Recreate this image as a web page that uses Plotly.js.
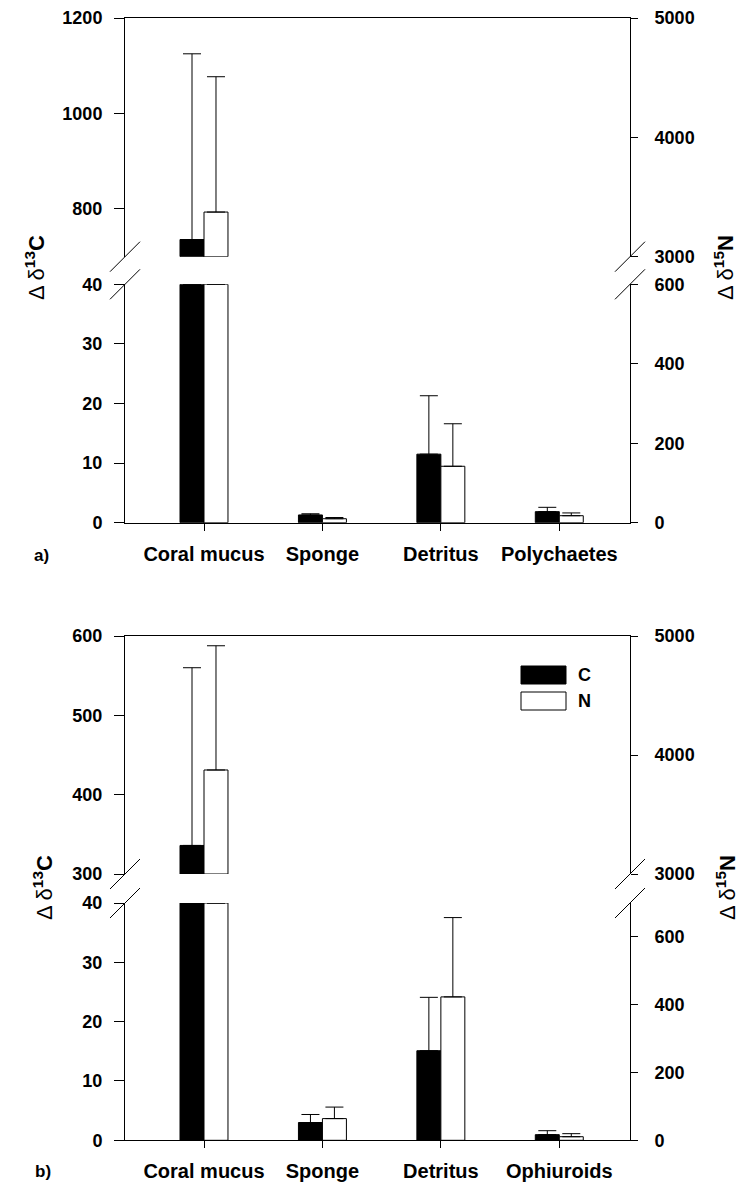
<!DOCTYPE html>
<html><head><meta charset="utf-8">
<script src="https://cdn.plot.ly/plotly-3.0.1.min.js"></script>
<style>html,body{margin:0;padding:0;background:#fff}#chart{width:742px;height:1189px}</style>
</head><body><div id="chart"></div>
<script>
// ---------- data ----------
const categoriesA = ['Coral mucus', 'Sponge', 'Detritus', 'Polychaetes'];
const carbonA     = [736, 1.3, 11.5, 1.85];
const carbonErrA  = [389, 0.2, 9.8, 0.73];
const nitrogenA   = [3374, 10, 142, 17.6];
const nitrogenErrA= [1134, 3, 107, 7];

const categoriesB = ['Coral mucus', 'Sponge', 'Detritus', 'Ophiuroids'];
const carbonB     = [336, 3.0, 15.1, 0.95];
const carbonErrB  = [224, 1.35, 9, 0.67];
const nitrogenB   = [3874, 64, 423, 10.6];
const nitrogenErrB= [1044, 34, 234, 9];

// broken-axis ranges
const cLowA = [0, 40],  cHighA = [700, 1200], nLowA = [0, 600], nHighA = [3000, 5000];
const cLowB = [0, 40],  cHighB = [300, 600],  nLowB = [0, 700], nHighB = [3000, 5000];
const cTicksHighA = [800, 1000, 1200], nTicksHighA = [3000, 4000, 5000];
const cTicksLowA = [0, 10, 20, 30, 40], nTicksLowA = [0, 200, 400, 600];
const cTicksHighB = [300, 400, 500, 600], nTicksHighB = [3000, 4000, 5000];
const cTicksLowB = [0, 10, 20, 30, 40], nTicksLowB = [0, 200, 400, 600];

// ---------- layout helpers ----------
const W = 742, H = 1189;
const px = x => x / W;
const py = y => 1 - y / H;
const FONT = 'Liberation Sans, Arial, sans-serif';
const BW = 0.2025;        // bar width in category units
const XR = [-0.667, 3.597];

function lowTrace(cats, vals, errs, xa, ya, fill, offset, rng) {
  return {
    type: 'bar', x: cats, xaxis: xa, yaxis: ya,
    y: vals.map(v => Math.min(v, rng[1])),
    width: BW, offset: offset,
    marker: {color: fill, line: {color: '#000', width: 1}},
    error_y: {type: 'data', symmetric: false,
      array: vals.map((v, i) => v > rng[1] ? NaN : errs[i]),
      arrayminus: vals.map(() => 0),
      color: '#000', thickness: 1, width: 9},
    showlegend: false, hoverinfo: 'skip'
  };
}
function highTrace(cats, vals, errs, xa, ya, fill, offset, rng) {
  // only values that reach the upper segment are shown there
  return {
    type: 'bar', x: cats, xaxis: xa, yaxis: ya,
    base: rng[0], y: vals.map(v => v > rng[0] ? v - rng[0] : null),
    width: BW, offset: offset,
    marker: {color: fill, line: {color: '#000', width: 1}},
    error_y: {type: 'data', symmetric: false,
      array: vals.map((v, i) => v > rng[0] ? errs[i] : NaN),
      arrayminus: vals.map(() => 0),
      color: '#000', thickness: 1, width: 9},
    showlegend: false, hoverinfo: 'skip'
  };
}

const data = [
  // panel a
  lowTrace(categoriesA, carbonA, carbonErrA, 'x', 'y', '#000', -BW, cLowA),
  lowTrace(categoriesA, nitrogenA, nitrogenErrA, 'x', 'y2', '#fff', 0, nLowA),
  highTrace(categoriesA, carbonA, carbonErrA, 'x2', 'y3', '#000', -BW, cHighA),
  highTrace(categoriesA, nitrogenA, nitrogenErrA, 'x2', 'y4', '#fff', 0, nHighA),
  // panel b
  lowTrace(categoriesB, carbonB, carbonErrB, 'x3', 'y5', '#000', -BW, cLowB),
  lowTrace(categoriesB, nitrogenB, nitrogenErrB, 'x3', 'y6', '#fff', 0, nLowB),
  highTrace(categoriesB, carbonB, carbonErrB, 'x4', 'y7', '#000', -BW, cHighB),
  highTrace(categoriesB, nitrogenB, nitrogenErrB, 'x4', 'y8', '#fff', 0, nHighB)
];

const tickFont = {family: FONT, size: 18, color: '#000', weight: 'bold'};
const base = {showline: true, linecolor: '#000', linewidth: 1, showgrid: false,
  zeroline: false, ticks: 'outside', tickcolor: '#000', tickwidth: 1,
  tickfont: tickFont, fixedrange: true};

function leftY(domain, rng, tv, anchor) {
  return Object.assign({}, base, {domain: domain, range: rng, tickvals: tv,
    anchor: anchor, ticklen: 10, ticklabelstandoff: 8});
}
function rightY(over, rng, tv, anchor) {
  return Object.assign({}, base, {overlaying: over, side: 'right', range: rng,
    tickvals: tv, anchor: anchor, ticklen: 7, ticklabelstandoff: 13});
}
function bottomX(anchor) {
  return Object.assign({}, base, {domain: [px(125), px(630)], range: XR, type: 'category',
    anchor: anchor, ticklen: 7, ticklabelstandoff: 6,
    tickfont: {family: FONT, size: 20, color: '#000', weight: 'bold'}});
}
function topX(anchor) {
  return Object.assign({}, base, {domain: [px(125), px(630)], range: XR, type: 'category',
    anchor: anchor, side: 'top', ticks: '', showticklabels: false, tickvals: []});
}

// vertical pixel extents of the segments
const aHigh = [256.7, 18], aLow = [522.7, 284.3];
const bHigh = [874, 636], bLow = [1140.3, 903];
const dom = s => [py(s[0]), py(s[1])];

const shapes = [];
function brk(x, y) {
  shapes.push({type: 'line', xref: 'paper', yref: 'paper',
    x0: px(x - 15), y0: py(y + 15), x1: px(x + 15), y1: py(y - 15),
    line: {color: '#000', width: 1}});
}
[aHigh[0], aLow[1], bHigh[0], bLow[1]].forEach(y => { brk(125, y); brk(630, y); });

// legend boxes (panel b)
shapes.push({type: 'rect', xref: 'paper', yref: 'paper', x0: px(521), x1: px(566),
  y0: py(684), y1: py(666), fillcolor: '#000', line: {color: '#000', width: 1}});
shapes.push({type: 'rect', xref: 'paper', yref: 'paper', x0: px(521), x1: px(566),
  y0: py(710), y1: py(692), fillcolor: '#fff', line: {color: '#000', width: 1}});

function ann(text, x, y, size, angle, anchor) {
  return {text: text, xref: 'paper', yref: 'paper', x: px(x), y: py(y),
    xanchor: anchor || 'center', yanchor: 'middle', showarrow: false,
    textangle: angle || 0, font: {family: FONT, size: size, color: '#000'}};
}
const cTitle = '<span style="font-weight:normal">\u0394 \u03b4</span><b><sup>13</sup>C</b>';
const nTitle = '<span style="font-weight:normal">\u0394 \u03b4</span><b><sup>15</sup>N</b>';
const annotations = [
  ann(cTitle, 35, 268, 22, -90),
  ann(nTitle, 724, 268, 22, -90),
  ann(cTitle, 43, 888, 22, -90),
  ann(nTitle, 726, 888, 22, -90),
  ann('<b>a)</b>', 41, 555, 17),
  ann('<b>b)</b>', 43, 1171, 17),
  ann('<b>C</b>', 576, 675, 18, 0, 'left'),
  ann('<b>N</b>', 576, 701, 18, 0, 'left')
];

const layout = {
  width: W, height: H, margin: {l: 0, r: 0, t: 0, b: 0},
  paper_bgcolor: '#fff', plot_bgcolor: 'rgba(0,0,0,0)',
  showlegend: false, bargap: 0,
  font: {family: FONT, color: '#000'},
  xaxis: bottomX('y'),
  xaxis2: topX('y3'),
  xaxis3: bottomX('y5'),
  xaxis4: topX('y7'),
  yaxis: leftY(dom(aLow), cLowA, cTicksLowA, 'x'),
  yaxis2: rightY('y', nLowA, nTicksLowA, 'x'),
  yaxis3: leftY(dom(aHigh), cHighA, cTicksHighA, 'x2'),
  yaxis4: rightY('y3', nHighA, nTicksHighA, 'x2'),
  yaxis5: leftY(dom(bLow), cLowB, cTicksLowB, 'x3'),
  yaxis6: rightY('y5', nLowB, nTicksLowB, 'x3'),
  yaxis7: leftY(dom(bHigh), cHighB, cTicksHighB, 'x4'),
  yaxis8: rightY('y7', nHighB, nTicksHighB, 'x4'),
  shapes: shapes,
  annotations: annotations
};

Plotly.newPlot('chart', data, layout, {displayModeBar: false, staticPlot: true});
</script>
</body></html>
